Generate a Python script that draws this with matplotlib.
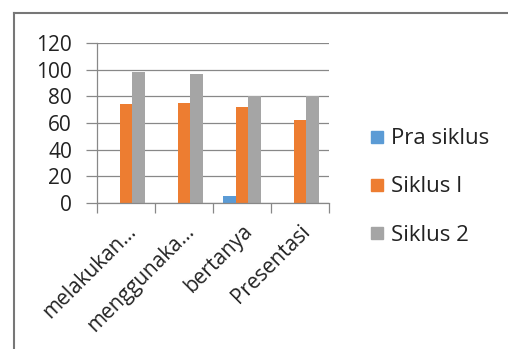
import matplotlib
matplotlib.use("Agg")
import matplotlib.pyplot as plt
import numpy as np
from matplotlib.lines import Line2D

categories = ["melakukan...", "menggunaka...", "bertanya", "Presentasi"]
series_names = ["Pra siklus", "Siklus I", "Siklus 2"]
pra_siklus = [0, 0, 5, 0]
siklus_1 = [74, 75, 72, 62]
siklus_2 = [98, 97, 80, 80]
y_ticks = [0, 20, 40, 60, 80, 100, 120]
colors = ["#5B9BD5", "#ED7D31", "#A5A5A5"]

plt.rcParams['font.family'] = ['Open Sans', 'DejaVu Sans']

W, H = 508, 349
fig = plt.figure(figsize=(W/100, H/100), dpi=100)
ax = fig.add_axes([97/W, 1-203/H, (329-97)/W, (203-43)/H])

x = np.arange(len(categories))
w = 1/4.5
data = [pra_siklus, siklus_1, siklus_2]
for i, (vals, name, c) in enumerate(zip(data, series_names, colors)):
    ax.bar(x + (i-1)*w, vals, width=w, color=c, label=name)

ax.set_xlim(-0.5, len(categories)-0.5)
ax.set_ylim(0, 120)
ax.set_yticks(y_ticks)
ax.set_yticklabels([str(t) for t in y_ticks], fontsize=15, color="#222222")
ax.yaxis.grid(True, color="#888888", linewidth=0.9)
ax.set_axisbelow(True)
ax.tick_params(axis='y', length=8, color="#888888", width=0.9, pad=10)

ax.set_xticks(np.arange(-0.5, len(categories)), minor=False)
ax.set_xticklabels([])
ax.tick_params(axis='x', which='major', length=7, color="#888888", width=0.9)
ax.set_xticks(x, minor=True)
ax.set_xticklabels(categories, minor=True, rotation=45, ha='right',
                   rotation_mode='anchor', fontsize=15, color="#222222")
ax.tick_params(axis='x', which='minor', length=0, pad=13)

for s in ['top', 'right']:
    ax.spines[s].set_visible(False)
for s in ['left', 'bottom']:
    ax.spines[s].set_color("#888888")
    ax.spines[s].set_linewidth(0.9)

handles = [Line2D([], [], marker='s', linestyle='none', markersize=8,
                  markerfacecolor=c, markeredgecolor=c) for c in colors]
fig.legend(handles, series_names, loc='center left',
           bbox_to_anchor=(368/W, 1-187/H), frameon=False,
           fontsize=16, handletextpad=0.25, handlelength=0.8,
           borderpad=0, borderaxespad=0,
           labelspacing=1.22, labelcolor="#222222")

# chart border (left and top)
fig.add_artist(Line2D([14/W, 14/W], [0, 1-13/H], transform=fig.transFigure,
                      color="#777777", linewidth=1.5))
fig.add_artist(Line2D([14/W, 1], [1-13/H, 1-13/H], transform=fig.transFigure,
                      color="#777777", linewidth=1.5))

fig.savefig("out.png", dpi=100)
